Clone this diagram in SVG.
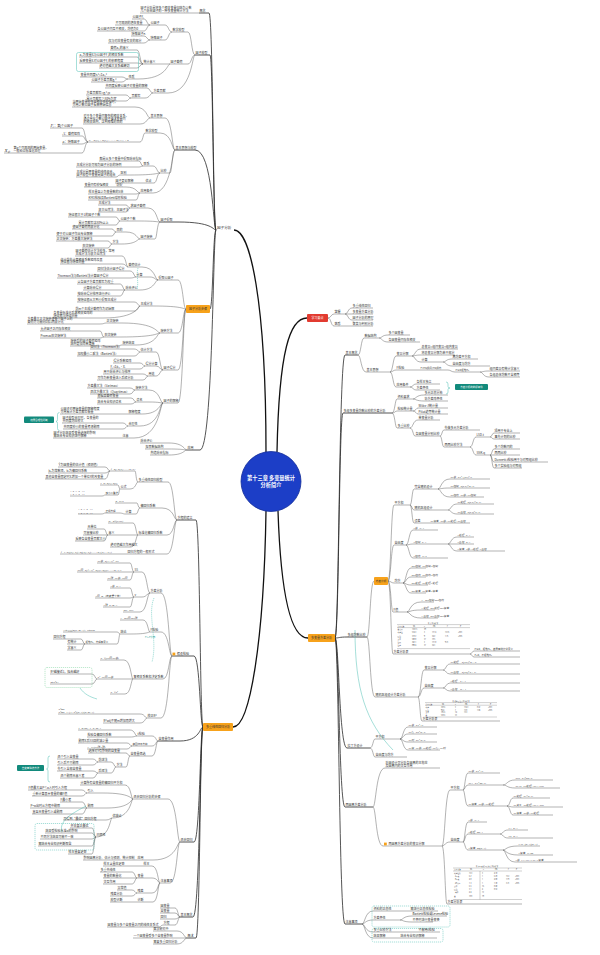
<svg xmlns="http://www.w3.org/2000/svg" width="600" height="955" viewBox="0 0 600 955">
<style>
.c{fill:none;stroke:#555;stroke-width:.45}
.k{fill:none;stroke:#2a2a2a;stroke-width:.8}
.m{fill:none;stroke:#111;stroke-width:1.3}
.tl{fill:none;stroke:#4cbfb3;stroke-width:.5}
.td{fill:none;stroke:#4cbfb3;stroke-width:.5;stroke-dasharray:1.2 .8}
.gd{fill:none;stroke:#7fd39f;stroke-width:.5;stroke-dasharray:1.2 .8}
text{font-family:"Noto Sans CJK SC","Liberation Sans",sans-serif;fill:#333;font-size:3px}
.s{font-size:2.5px}
.x{font-size:1.7px}
.b{font-size:3.6px}
.f{font-family:"Liberation Serif","Noto Sans CJK SC",serif;font-style:italic;font-size:2.7px}
.w{fill:#fff}
.ct{fill:#fff;font-size:5.2px;font-weight:bold}
.tb{fill:none;stroke:#444;stroke-width:.25}
.or{fill:#f7a21b}
.tt{fill:#128a7c}
</style>
<rect width="600" height="955" fill="#fff"/>
<g id="connectors">
<g class="m">
<path d="M266 452C266 300 250 230 234 230"/>
<path d="M277 452C279 350 290 318 307 318"/>
<path d="M278 511C281 600 292 638 308 638"/>
<path d="M266 511C264 640 250 727 233 727"/>
</g>
<g class="k">
<path d="M216 230c-3 0-3-217-7-217H199"/>
<path d="M216 230c-3 0-3-175-6-175H195"/>
<path d="M216 230c-3 0-3-80-21-80H175"/>
<path d="M216 230c-3 0-3-8-38-8H160"/>
<path d="M216 230c-3 0-3 79-6 79"/>
<path d="M216 230c-3 0-3 220-16 220H187"/>
<path d="M335 638c4 0 4-283 10-283H358"/>
<path d="M335 638c4 0 4-225 8-225H392"/>
<path d="M335 638c4 0 4-1 12-1H367"/>
<path d="M335 638c4 0 4 110 12 110H370"/>
<path d="M335 638c4 0 4 169 10 169H373"/>
<path d="M335 638c4 0 4 286 10 286H362"/>
<path d="M203 727c-3 0-3-207-7-207H177"/>
<path d="M203 727c-3 0-3-71-9-71H172"/>
<path d="M203 727c-3 0-3 14-23 14H158"/>
<path d="M203 727c-3 0-3 115-9 115H180"/>
<path d="M203 727c-3 0-3 190-10 190H180"/>
<path d="M203 727c-3 0-3 211-7 211H187"/>
</g>
<g class="c">
<path d="M199 13H140"/>
<path d="M195 55c-3.5 0-3.5-23-7-23H172"/>
<path d="M172 32c-3.5 0-3.5-7-7-7H150"/>
<path d="M150 25c-3 0-3-6-6-6H132"/>
<path d="M150 25H115"/>
<path d="M150 25c-3 0-3 6-6 6H97"/>
<path d="M172 32c-3.5 0-3.5 8-7 8H150"/>
<path d="M150 40c-3 0-3-4-6-4H131"/>
<path d="M150 40c-3 0-3 3-6 3H108"/>
<path d="M195 55c-3.5 0-3.5 9-7 9H170"/>
<path d="M170 64H143"/>
<path d="M143 64c-3 0-3-14-6-14H110"/>
<path d="M143 64c-3 0-3-7-6-7H79"/>
<path d="M143 64c-3 0-3-1-6-1H79"/>
<path d="M143 64c-3 0-3 4-6 4H99"/>
<path d="M170 64c-3 0-3 15-32 15H128"/>
<path d="M128 79c-3 0-3-2-6-2H80"/>
<path d="M128 79c-3 0-3 3-6 3H91"/>
<path d="M195 55c-3 0-3 38-27 38H153"/>
<path d="M153 93c-3 0-3-5-6-5H105"/>
<path d="M153 93c-3 0-3 5-8 5H131"/>
<path d="M131 98c-2.5 0-2.5-3-5-3H86"/>
<path d="M131 98c-2.5 0-2.5 3-5 3H86"/>
<path d="M175 150c-3 0-3-32-10-32H150"/>
<path d="M150 118c-3 0-3-11-15-11H72"/>
<path d="M150 118c-3 0-3 6-10 6H83"/>
<path d="M175 150c-3 0-3-17-15-17H145"/>
<path d="M145 133c-2 0-2 9-5 9H88"/>
<path d="M88 142c-3 0-3-14-6-14H50"/>
<path d="M88 142c-3 0-3-6-6-6H62"/>
<path d="M88 142c-3 0-3 2-6 2H62"/>
<path d="M88 142c-3 0-3 11-6 11H4"/>
<path d="M175 150c-3 0-3 23-5 23H160"/>
<path d="M160 173c-3 0-3-7-7-7H143"/>
<path d="M143 166c-2 0-2-5-4-5H99"/>
<path d="M143 166c-2 0-2 1-4 1H76"/>
<path d="M160 173c-3 0-3 2-30 2H120"/>
<path d="M120 175c-2 0-2 2-4 2H76"/>
<path d="M160 173c-3 0-3 10-6 10H145"/>
<path d="M145 183H115"/>
<path d="M175 150c-3 0-3 43-22 43H140"/>
<path d="M140 193c-3 0-3-6-14-6H116"/>
<path d="M116 187H84"/>
<path d="M140 193c-2 0-2 1-4 1H88"/>
<path d="M140 193c-2 0-2 7-4 7H88"/>
<path d="M160 222c-3 0-3-14-12-14H130"/>
<path d="M130 208c-2 0-2-3-4-3H98"/>
<path d="M130 208c-2 0-2 4-4 4H98"/>
<path d="M160 222c-3 0-3-1-22-1H120"/>
<path d="M120 221c-2 0-2-4-4-4H68"/>
<path d="M120 221c-2 0-2 4-4 4H78"/>
<path d="M160 222c-3 0-3 17-5 17H140"/>
<path d="M140 239c-3 0-3-7-14-7H116"/>
<path d="M116 232c-2 0-2-3-4-3H72"/>
<path d="M116 232c-2 0-2 4-4 4H56"/>
<path d="M140 239c-3 0-3 5-18 5H112"/>
<path d="M112 244c-2 0-2-3-4-3H56"/>
<path d="M112 244c-2 0-2 4-4 4H82"/>
<path d="M186 309c-3 0-3-29-8-29H158"/>
<path d="M158 280c-3 0-3-13-16-13H128"/>
<path d="M128 267c-2 0-2-11-6-11H75"/>
<path d="M128 267c-2 0-2-3-6-3H60"/>
<path d="M158 280c-3 0-3-3-8-3H136"/>
<path d="M136 277c-2 0-2-6-6-6H97"/>
<path d="M136 277c-2 0-2 1-6 1H57"/>
<path d="M158 280c-3 0-3 10-18 10H125"/>
<path d="M125 290c-2 0-2-6-5-6H77"/>
<path d="M125 290H83"/>
<path d="M125 290c-2 0-2 6-5 6H77"/>
<path d="M186 309c-3 0-3-3-33-3H140"/>
<path d="M140 306c-2 0-2-4-6-4H77"/>
<path d="M140 306c-2 0-2 5-6 5H75"/>
<path d="M140 306c-2 0-2 12-37 12H53"/>
<path d="M186 309c-3 0-3 24-8 24H160"/>
<path d="M160 333c-3 0-3-10-38-10H106"/>
<path d="M106 323c-2 0-2 1-6 1H27"/>
<path d="M160 333c-3 0-3 4-40 4H104"/>
<path d="M104 337c-2 0-2-6-4-6H40"/>
<path d="M104 337c-2 0-2 1-4 1H40"/>
<path d="M160 333c-3 0-3 12-24 12H122"/>
<path d="M122 345c-2 0-2 1-4 1H70"/>
<path d="M186 309c-3 0-3 61-8 61H163"/>
<path d="M163 370c-3 0-3-18-7-18H140"/>
<path d="M140 352c-2 0-2-3-6-3H90"/>
<path d="M140 352c-2 0-2 4-6 4H77"/>
<path d="M163 370c-3 0-3-4-7-4H145"/>
<path d="M145 366c-2 0-2-3-5-3H113"/>
<path d="M145 366c-2 0-2 3-5 3H110"/>
<path d="M163 370c-3 0-3 6-7 6H148"/>
<path d="M148 376c-2 0-2-2-5-2H103"/>
<path d="M148 376c-2 0-2 4-5 4H97"/>
<path d="M186 309c-3 0-3 94-8 94H163"/>
<path d="M163 403c-3 0-3-13-14-13H135"/>
<path d="M135 390c-2 0-2-2-5-2H87"/>
<path d="M135 390c-2 0-2 4-5 4H90"/>
<path d="M163 403c-3 0-3-1-14-1H136"/>
<path d="M136 402c-2 0-2-4-5-4H97"/>
<path d="M136 402c-2 0-2 2-5 2H97"/>
<path d="M163 403c-3 0-3 11-21 11H128"/>
<path d="M128 414H60"/>
<path d="M163 403c-3 0-3 23-23 23H128"/>
<path d="M128 426c-2 0-2-3-5-3H62"/>
<path d="M128 426c-2 0-2 3-5 3H63"/>
<path d="M163 403c-3 0-3 35-29 35H122"/>
<path d="M122 438H53"/>
<path d="M187 450c-3 0-3-7-18-7H140"/>
<path d="M187 450c-3 0-3-1-18-1H145"/>
<path d="M187 450c-3 0-3 5-18 5H150"/>
<path d="M328 318c3 0 3-4 6-4H345"/>
<path d="M345 314c3 0 3-6 7-6H373"/>
<path d="M345 314H373"/>
<path d="M345 314c3 0 3 6 7 6H373"/>
<path d="M328 318c3 0 3 8 6 8H345"/>
<path d="M345 326H373"/>
<path d="M358 355c3 0 3-17 6-17H379"/>
<path d="M379 338c3 0 3-3 9-3H410"/>
<path d="M379 338c3 0 3 4 9 4H420"/>
<path d="M358 355c3 0 3 17 8 17H390"/>
<path d="M390 372c3 0 3-16 6-16H412"/>
<path d="M412 356c3 0 3-7 9-7H458"/>
<path d="M412 356c3 0 3-1 9-1H455"/>
<path d="M412 356c3 0 3 6 9 6H443"/>
<path d="M443 362c3 0 3-3 9-3H478"/>
<path d="M443 362c3 0 3 4 9 4H490"/>
<path d="M390 372c3 0 3-2 6-2H412"/>
<path d="M412 370H448"/>
<path d="M448 370c3 0 3 2 7 2H480"/>
<path d="M480 372c3 0 3-1 9-1H520"/>
<path d="M480 372c3 0 3 5 9 5H520"/>
<path d="M390 372c3 0 3 15 6 15H410"/>
<path d="M410 387c3 0 3-3 6-3H440"/>
<path d="M410 387c3 0 3 3 6 3H440"/>
<path d="M392 413c3 0 3-14 5-14H413"/>
<path d="M413 399c3 0 3-4 11-4H448"/>
<path d="M413 399c3 0 3 2 11 2H448"/>
<path d="M392 413c3 0 3-2 5-2H413"/>
<path d="M413 411c3 0 3-3 5-3H448"/>
<path d="M413 411c3 0 3 3 5 3H448"/>
<path d="M392 413c3 0 3 15 5 15H410"/>
<path d="M410 428c3 0 3-8 8-8H440"/>
<path d="M410 428c3 0 3 8 5 8H440"/>
<path d="M440 436c2 0 2-6 4-6H480"/>
<path d="M440 436c2 0 2 11 4 11H470"/>
<path d="M470 447c3 0 3-10 6-10H490"/>
<path d="M490 437c2 0 2-4 4-4H520"/>
<path d="M490 437c2 0 2 2 4 2H520"/>
<path d="M470 447c3 0 3 8 6 8H490"/>
<path d="M490 455c2 0 2-6 4-6H520"/>
<path d="M490 455H520"/>
<path d="M490 455c2 0 2 7 4 7H548"/>
<path d="M490 455c2 0 2 13 4 13H522"/>
<path d="M367 637c3 0 3-56 7-56"/>
<path d="M388 581c3 0 3-76 6-76H410"/>
<path d="M410 505c2 0 2-16 4-16H438"/>
<path d="M438 489c3 0 3-10 12-10H490"/>
<path d="M438 489c3 0 3-1 12-1H490"/>
<path d="M438 489c3 0 3 8 12 8H484"/>
<path d="M410 505c2 0 2 5 4 5H448"/>
<path d="M448 510c3 0 3-6 9-6H494"/>
<path d="M448 510c3 0 3 4 9 4H494"/>
<path d="M410 505c2 0 2 18 4 18H424"/>
<path d="M424 523H470"/>
<path d="M388 581c3 0 3-36 6-36H406"/>
<path d="M406 545c3 0 3-15 7-15H438"/>
<path d="M406 545c3 0 3-1 7-1H448"/>
<path d="M448 544c3 0 3-7 9-7H474"/>
<path d="M448 544H474"/>
<path d="M448 544c3 0 3 7 9 7H505"/>
<path d="M406 545c3 0 3 13 7 13H448"/>
<path d="M388 581c3 0 3 2 6 2H403"/>
<path d="M403 583c3 0 3-15 8-15H426"/>
<path d="M403 583c3 0 3-6 8-6H426"/>
<path d="M403 583c3 0 3 2 8 2H428"/>
<path d="M403 583c3 0 3 10 8 10H426"/>
<path d="M388 581c3 0 3 31 5 31H407"/>
<path d="M407 612c3 0 3-10 14-10H434"/>
<path d="M407 612c3 0 3-2 14-2H435"/>
<path d="M407 612c3 0 3 6 14 6H438"/>
<path d="M388 581c3 0 3 73 5 73H470"/>
<path d="M470 654c2 0 2-3 4-3H520"/>
<path d="M470 654c2 0 2 3 4 3H520"/>
<path d="M367 637c3 0 3 60 8 60H418"/>
<path d="M418 697c3 0 3-27 6-27H443"/>
<path d="M443 670c3 0 3-6 7-6H520"/>
<path d="M443 670c3 0 3 4 7 4H520"/>
<path d="M418 697c3 0 3-9 6-9H443"/>
<path d="M443 688c3 0 3-5 7-5H520"/>
<path d="M443 688c3 0 3 3 7 3H520"/>
<path d="M418 697c2 0 2 24 4 24H500"/>
<path d="M370 748c3 0 3-9 5-9H400"/>
<path d="M400 739c3 0 3-12 8-12H437"/>
<path d="M400 739c3 0 3-5 8-5H437"/>
<path d="M400 739c3 0 3 3 8 3H437"/>
<path d="M400 739c3 0 3 11 8 11H440"/>
<path d="M370 748c3 0 3 9 5 9H407"/>
<path d="M373 807c3 0 3-39 12-39H440"/>
<path d="M373 807c3 0 3 39 10 39H442"/>
<path d="M442 846c3 0 3-56 8-56H463"/>
<path d="M463 790c2 0 2-17 5-17H500"/>
<path d="M463 790c2 0 2-5 5-5H503"/>
<path d="M503 785c4 0 4-5 12-5H553"/>
<path d="M503 785c4 0 4 3 12 3H560"/>
<path d="M463 790c2 0 2 16 5 16H507"/>
<path d="M507 806c3 0 3-8 6-8H550"/>
<path d="M507 806c3 0 3 1 6 1H563"/>
<path d="M507 806c3 0 3 9 6 9H553"/>
<path d="M442 846c3 0 3-4 8-4H463"/>
<path d="M463 842c2 0 2-20 5-20H487"/>
<path d="M463 842c2 0 2-8 5-8H500"/>
<path d="M500 834c3 0 3-4 8-4H528"/>
<path d="M500 834c3 0 3 4 8 4H553"/>
<path d="M463 842c2 0 2 8 5 8H503"/>
<path d="M503 850c3 0 3-4 15-4H540"/>
<path d="M503 850c3 0 3 5 15 5H553"/>
<path d="M503 850c3 0 3 12 12 12H577"/>
<path d="M442 846c3 0 3 58 5 58H522"/>
<path d="M362 924c3 0 3-13 11-13H403"/>
<path d="M403 911H438"/>
<path d="M362 924c3 0 3-4 11-4H400"/>
<path d="M400 920c3 0 3-4 12-4H447"/>
<path d="M400 920c3 0 3 2 12 2H433"/>
<path d="M362 924c3 0 3 8 11 8H403"/>
<path d="M403 932H440"/>
<path d="M362 924c3 0 3 14 11 14H390"/>
<path d="M390 938H437"/>
<path d="M177 520c-3 0-3-38-9-38H138"/>
<path d="M138 482c-2 0-2-11-3-11H110"/>
<path d="M110 471c-2 0-2-4-5-4H58"/>
<path d="M110 471c-2 0-2 2-5 2H48"/>
<path d="M110 471c-2 0-2 8-5 8H45"/>
<path d="M138 482c-2 0-2 7-8 7H120"/>
<path d="M120 489c-1 0-1-4-2-4H100"/>
<path d="M120 489c-1 0-1 6-2 6H105"/>
<path d="M105 495c-1 0-1 1-3 1H70"/>
<path d="M177 520c-3 0-3-12-15-12H140"/>
<path d="M140 508c-2 0-2-5-3-5H115"/>
<path d="M140 508c-2 0-2 6-4 6H125"/>
<path d="M125 514c-2 0-2-1-6-1H105"/>
<path d="M105 513c-1 0-1 1-4 1H78"/>
<path d="M177 520c-3 0-3 15-10 15H138"/>
<path d="M138 535c-2 0-2-12-5-12H108"/>
<path d="M138 535H108"/>
<path d="M108 535c-2 0-2-6-4-6H87"/>
<path d="M108 535H83"/>
<path d="M108 535c-2 0-2 6-4 6H75"/>
<path d="M138 535c-2 0-2 12-7 12H110"/>
<path d="M177 520c-3 0-3 34-10 34H127"/>
<path d="M127 554H60"/>
<path d="M172 656c-3 0-3-63-11-63H150"/>
<path d="M150 593c-3 0-3-21-8-21H134"/>
<path d="M134 572c-2 0-2-9-4-9H97"/>
<path d="M134 572H77"/>
<path d="M134 572c-2 0-2 8-4 8H107"/>
<path d="M150 593c-3 0-3 4-8 4H134"/>
<path d="M134 597c-2 0-2-9-4-9H110"/>
<path d="M134 597c-2 0-2 1-4 1H95"/>
<path d="M134 597c-2 0-2 10-4 10H103"/>
<path d="M150 593c-3 0-3 19-10 19H123"/>
<path d="M172 656c-3 0-3-24-11-24H150"/>
<path d="M150 632c-2 0-2-12-7-12H120"/>
<path d="M150 632c-2 0-2 2-19 2H120"/>
<path d="M120 634c-1 0-1-2-3-2H63"/>
<path d="M120 634c-1 0-1 10-3 10H85"/>
<path d="M85 644c-2 0-2-5-4-5H53"/>
<path d="M85 644H67"/>
<path d="M85 644c-2 0-2 6-4 6H67"/>
<path d="M172 656c-3 0-3 23-9 23H133"/>
<path d="M133 679c-2 0-2-19-9-19H100"/>
<path d="M133 679H97"/>
<path d="M97 679c-2 0-2-5-5-5H50"/>
<path d="M97 679c-2 0-2 5-5 5H50"/>
<path d="M133 679c-2 0-2 15-8 15H110"/>
<path d="M172 656c-3 0-3 62-11 62H147"/>
<path d="M147 718c-2 0-2-4-7-4H58"/>
<path d="M147 718c-2 0-2 5-7 5H103"/>
<path d="M158 741c-2 0-2-5-6-5H137"/>
<path d="M137 736c-2 0-2-6-7-6H78"/>
<path d="M137 736c-2 0-2 1-7 1H87"/>
<path d="M158 741c-2 0-2 5-6 5H132"/>
<path d="M132 746c-2 0-2-3-5-3H78"/>
<path d="M132 746c-2 0-2 3-5 3H87"/>
<path d="M158 741c-2 0-2 15-6 15H130"/>
<path d="M130 756c-2 0-2-3-4-3H88"/>
<path d="M130 756c-2 0-2 11-4 11H116"/>
<path d="M116 767c-2 0-2-5-5-5H98"/>
<path d="M98 762c-2 0-2-3-5-3H57"/>
<path d="M98 762c-2 0-2 3-5 3H57"/>
<path d="M116 767c-2 0-2 6-5 6H98"/>
<path d="M98 773c-2 0-2-2-5-2H57"/>
<path d="M98 773c-2 0-2 5-5 5H60"/>
<path d="M180 842c-3 0-3-43-12-43H133"/>
<path d="M133 799c-2 0-2-14-8-14H80"/>
<path d="M133 799c-2 0-2-6-30-6H87"/>
<path d="M87 793c-2 0-2-3-5-3H28"/>
<path d="M87 793c-2 0-2 3-5 3H32"/>
<path d="M133 799c-2 0-2 9-26 9H87"/>
<path d="M87 808c-2 0-2-6-5-6H60"/>
<path d="M87 808H30"/>
<path d="M87 808c-2 0-2 6-5 6H32"/>
<path d="M133 799c-2 0-2 19-21 19H112"/>
<path d="M112 818c-2 0-2 2-6 2H63"/>
<path d="M112 818c-2 0-2 19-16 19H96"/>
<path d="M96 837c-2 0-2-9-4-9H70"/>
<path d="M96 837c-2 0-2-4-4-4H45"/>
<path d="M96 837c-2 0-2 2-4 2H40"/>
<path d="M96 837c-2 0-2 9-4 9H38"/>
<path d="M96 837c-2 0-2 17-4 17H68"/>
<path d="M180 842c-3 0-3 18-27 18H137"/>
<path d="M137 860H83"/>
<path d="M180 842c-3 0-3 41-10 41H160"/>
<path d="M160 883c-2 0-2-17-8-17H143"/>
<path d="M143 866H103"/>
<path d="M160 883c-2 0-2-5-8-5H137"/>
<path d="M137 878c-2 0-2-6-5-6H100"/>
<path d="M137 878H103"/>
<path d="M137 878c-2 0-2 6-5 6H103"/>
<path d="M160 883c-2 0-2 10-8 10H137"/>
<path d="M137 893c-2 0-2-3-5-3H117"/>
<path d="M137 893c-2 0-2 3-5 3H110"/>
<path d="M160 883c-2 0-2 19-7 19H137"/>
<path d="M137 902H110"/>
<path d="M180 917c-2 0-2-9-5-9H160"/>
<path d="M180 917c-2 0-2-4-5-4H160"/>
<path d="M180 917c-2 0-2 2-5 2H160"/>
<path d="M180 917c-2 0-2 8-5 8H163"/>
<path d="M163 925c-2 0-2 2-4 2H107"/>
<path d="M187 938c-3 0-3-7-10-7H153"/>
<path d="M187 938H133"/>
<path d="M187 938c-3 0-3 6-10 6H153"/>
</g>
<g id="relations">
<path class="td" d="M138 268C136 275 139 282 137 289"/>
<path class="tl" d="M355 630C355 690 366 722 393 750"/>
<path class="td" d="M154 598C147 615 158 640 152 662"/>
<path class="tl" d="M80 688C84 694 90 697 97 699"/>
<path class="tl" d="M62 832C58 820 75 812 86 806"/>
<path class="tl" d="M59.5 412.5q-2 0-2 2v5q0 2-1.5 2q1.5 0 1.5 2v5q0 2 2 2"/>
<path class="tl" d="M446 382q2 0 2 2v2.5q0 1.5 2 1.5q-2 0-2 1.5v2.5q0 2-2 2"/>
<path class="tl" d="M50 756q-2 0-2 2v9q0 2-1.5 2q1.5 0 1.5 2v9q0 2 2 2"/>
</g>
</g>
<g id="center"><circle cx="271" cy="481.5" r="30" fill="#1c3ec7" stroke="#142f99" stroke-width=".8"/><text class="ct" x="271" y="479.5" text-anchor="middle">第十三章 多变量统计</text><text class="ct" x="271" y="486.8" text-anchor="middle">分析简介</text></g>
<g id="nA"><text class="b" x="217" y="229">因子分析</text></g>
<g id="nA1"><text x="199.5" y="12.2">概念</text></g>
<g id="nA1a"><text x="140.5" y="8.9">因子分析是将多个相关变量归结为少数</text><text x="140.5" y="12.2">几个综合因子的一种多变量统计方法</text></g>
<g id="nA2"><text x="195.5" y="54.2">因子模型</text></g>
<g id="nA21"><text x="172.5" y="31.2">数学模型</text></g>
<g id="nA211"><text x="150.5" y="24.2">公因子</text></g>
<g id="nA2111"><text x="132.5" y="18.2">公因子Fⱼ</text></g>
<g id="nA2112"><text x="115.5" y="24.2">不可观测的潜在变量</text></g>
<g id="nA2113"><text x="97.5" y="30.2">各公因子间互不相关，均值为0</text></g>
<g id="nA212"><text x="150.5" y="39.2">特殊因子</text></g>
<g id="nA2121"><text x="131.5" y="35.2">特殊因子eᵢ</text></g>
<g id="nA2122"><text x="108.5" y="42.2">仅与对应变量有关的部分</text></g>
<g id="nA22"><text x="170.5" y="63.2">因子载荷</text></g>
<g id="nA221"><text x="143.5" y="63.2">统计意义</text></g>
<g id="nA2211"><text x="110.5" y="49.2">载荷aᵢⱼ的意义</text></g>
<g id="nA2212"><rect x="76.5" y="52.5" width="62" height="19" rx="2" class="tl"/><text x="79.5" y="56.2">aᵢⱼ为变量Xᵢ与公因子Fⱼ的相关系数</text></g>
<g id="nA2213"><text x="79.5" y="62.2">反映变量Xᵢ对公因子Fⱼ的依赖程度</text></g>
<g id="nA2214"><text x="99.5" y="67.2">绝对值越大关系越密切</text></g>
<g id="nA222"><text x="128.5" y="78.2">性质</text></g>
<g id="nA2221"><text x="80.5" y="76.2">变量共同度hᵢ²=Σaᵢⱼ²</text></g>
<g id="nA2222"><text x="91.5" y="81.2">公因子方差贡献gⱼ²</text></g>
<g id="nA23"><text x="153.5" y="92.2">方差贡献</text></g>
<g id="nA231"><text x="105.5" y="87.2">共同度反映公因子对变量的解释</text></g>
<g id="nA232"><text x="131.5" y="97.2">贡献率</text></g>
<g id="nA2321"><text x="86.5" y="94.2">方差贡献率=gⱼ²/p</text></g>
<g id="nA2322"><text x="86.5" y="100.2">累计贡献率≥80%为宜</text></g>
<g id="nA3"><text x="175.5" y="149.2">基本思想与模型</text></g>
<g id="nA31"><text x="150.5" y="117.2">基本思想</text></g>
<g id="nA311"><text x="72.5" y="103.3">当原始变量较多且相关性较强时，</text><text x="72.5" y="106.3">可用少数公因子反映原始信息</text></g>
<g id="nA312"><text x="83.5" y="116.6">对于多个变量间复杂的相关关系，</text><text x="83.5" y="119.8">通过寻找少数公因子描述变量间</text><text x="83.5" y="123.1">的相关结构，达到降维的目的</text></g>
<g id="nA32"><text x="145.5" y="132.2">数学模型</text></g>
<g id="nA321"><text class="f" x="88.5" y="141.2">Xᵢ = aᵢ₁F₁ + aᵢ₂F₂ + ⋯ + aᵢₘFₘ + eᵢ</text></g>
<g id="nA3211"><text x="50.5" y="127.2"><tspan class="f" style="font-size:4.5px">F</tspan>ⱼ：第j个公因子</text></g>
<g id="nA3212"><text x="62.5" y="135.2"><tspan class="f" style="font-size:4px">A</tspan>：载荷矩阵</text></g>
<g id="nA3213"><text x="62.5" y="143.2"><tspan class="f" style="font-size:4px">e</tspan>ᵢ：特殊因子</text></g>
<g id="nA3214"><text class="f" x="4.5" y="152.3" style="font-size:5px">Xₚ</text><text x="13.5" y="149.3">第p个可观测的原始变量，</text><text x="13.5" y="152.3">一般经过标准化处理</text></g>
<g id="nA33"><text x="160.5" y="172.2">比较</text></g>
<g id="nA331"><text x="143.5" y="165.2">联系</text></g>
<g id="nA3311"><text x="99.5" y="160.2">都是从多个变量中提取综合指标</text></g>
<g id="nA3312"><text x="76.5" y="166.2">主成分分析可视为因子分析的特例</text></g>
<g id="nA332"><text x="120.5" y="174.2">区别</text></g>
<g id="nA3321"><text x="76.5" y="173.1">主成分是原变量的线性组合，</text><text x="76.5" y="176.2">因子模型中变量是因子的组合</text></g>
<g id="nA333"><text x="145.5" y="182.2">优点</text></g>
<g id="nA3331"><text x="115.5" y="182.2">因子更易解释</text></g>
<g id="nA34"><text x="140.5" y="192.2">应用条件</text></g>
<g id="nA341"><text x="116.5" y="186.2">前提</text></g>
<g id="nA3411"><text x="84.5" y="186.2">变量间有较强相关</text></g>
<g id="nA342"><text x="88.5" y="193.2">样本量至少为变量数的5倍</text></g>
<g id="nA343"><text x="88.5" y="199.2">KMO检验及Bartlett球形检验</text></g>
<g id="nA4"><text x="160.5" y="221.2">因子提取</text></g>
<g id="nA41"><text x="130.5" y="207.2">求因子载荷</text></g>
<g id="nA411"><text x="98.5" y="204.2">主成分法</text></g>
<g id="nA412"><text x="98.5" y="211.2">极大似然法、主因子法</text></g>
<g id="nA42"><text x="120.5" y="220.2">公因子个数</text></g>
<g id="nA421"><text x="68.5" y="216.2">特征根大于1的因子个数</text></g>
<g id="nA422"><text x="78.5" y="224.2">累计贡献率达80%以上</text></g>
<g id="nA43"><text x="140.5" y="238.2">因子旋转</text></g>
<g id="nA431"><text x="116.5" y="231.2">目的</text></g>
<g id="nA4311"><text x="72.5" y="228.2">使因子载荷两极分化</text></g>
<g id="nA4312"><text x="56.5" y="235.2">便于对公因子作出专业解释</text></g>
<g id="nA432"><text x="112.5" y="243.2">方法</text></g>
<g id="nA4321"><text x="56.5" y="240.2">正交旋转：方差最大旋转法</text></g>
<g id="nA4322"><text x="82.5" y="247.2">斜交旋转</text></g>
<g id="nO1"><rect x="186" y="305" width="24" height="8" rx="1" class="or"/><text x="198" y="310.2" text-anchor="middle">因子分析步骤</text></g>
<g id="nP1"><text x="158.5" y="279.2">提取公因子</text></g>
<g id="nP11"><text x="128.5" y="266.2">载荷估计</text></g>
<g id="nP111"><text x="75.5" y="252.3">因子载荷估计方法较多，常用</text><text x="75.5" y="255.3">主成分法与极大似然法</text></g>
<g id="nP112"><text x="60.5" y="260.5">估计前先计算相关系数矩阵及其</text><text x="60.5" y="263.3">特征根与特征向量</text></g>
<g id="nP12"><text x="136.5" y="276.2">计算</text></g>
<g id="nP121"><text x="97.5" y="270.2">回归法估计因子得分</text></g>
<g id="nP122"><text x="57.5" y="277.2">Thomson法与Bartlett法计算因子得分</text></g>
<g id="nP13"><text x="125.5" y="289.2">综合评价</text></g>
<g id="nP131"><text x="77.5" y="283.2">以各因子方差贡献率为权重</text></g>
<g id="nP132"><text x="83.5" y="289.2">计算综合得分</text></g>
<g id="nP133"><text x="77.5" y="295.2">按综合得分排序进行评价</text></g>
<g id="nP14"><text x="140.5" y="305.2">主成分法</text></g>
<g id="nP141"><text x="77.5" y="301.2">按特征根从大到小提取主成分</text></g>
<g id="nP142"><text x="75.5" y="310.2">前m个主成分载荷作为初始解</text></g>
<g id="nP143"><text x="53.5" y="314.3">各变量标准化后求相关矩阵的</text><text x="53.5" y="317.3">特征根与特征向量</text></g>
<g id="nP2"><text x="160.5" y="332.2">旋转方法</text></g>
<g id="nP21"><text x="106.5" y="322.2">正交旋转</text></g>
<g id="nP211"><text x="27.5" y="320.3">方差最大正交旋转使每个因子上的</text><text x="27.5" y="323.3">载荷尽可能向0和1两极分化</text></g>
<g id="nP22"><text x="104.5" y="336.2">斜交旋转</text></g>
<g id="nP221"><text x="40.5" y="330.2">允许因子之间存在相关</text></g>
<g id="nP222"><text x="40.5" y="337.2">Promax斜交旋转法</text></g>
<g id="nP23"><text x="122.5" y="344.2">旋转结果</text></g>
<g id="nP231"><text x="70.5" y="342.3">旋转后的因子载荷矩阵</text><text x="70.5" y="345.3">结构更加简单清晰</text></g>
<g id="nP3"><text x="163.5" y="369.2">因子得分</text></g>
<g id="nP31"><text x="140.5" y="351.2">估计方法</text></g>
<g id="nP311"><text x="90.5" y="348.2">回归法（Thomson法）</text></g>
<g id="nP312"><text x="77.5" y="355.2">加权最小二乘法（Bartlett法）</text></g>
<g id="nP32"><text x="145.5" y="365.2">得分计算</text></g>
<g id="nP321"><text x="113.5" y="362.2">得分系数矩阵</text></g>
<g id="nP322"><text x="110.5" y="368.2">Fⱼ=Σβⱼᵢ·Xᵢ</text></g>
<g id="nP33"><text x="148.5" y="375.2">用途</text></g>
<g id="nP331"><text x="103.5" y="373.2">用于综合评价与排序</text></g>
<g id="nP332"><text x="97.5" y="379.2">可作为新变量进入后续分析</text></g>
<g id="nP4"><text x="163.5" y="402.2">因子的解释</text></g>
<g id="nP41"><text x="135.5" y="389.2">旋转方法</text></g>
<g id="nP411"><text x="87.5" y="387.2">方差最大法（Varimax）</text></g>
<g id="nP412"><text x="90.5" y="393.2">四次方最大法（Quartimax）</text></g>
<g id="nP42"><text x="136.5" y="401.2">命名</text></g>
<g id="nP421"><text x="97.5" y="397.2">根据高载荷变量</text></g>
<g id="nP422"><text x="97.5" y="403.2">结合专业知识命名</text></g>
<g id="nP43"><text x="128.5" y="413.2">解释程度</text></g>
<g id="nP431"><text x="60.5" y="410.1">公因子对原始变量的解释程度</text><text x="60.5" y="413.2">可用累计方差贡献率衡量</text></g>
<g id="nP44"><text x="128.5" y="425.2">合理性</text></g>
<g id="nP441"><text x="62.5" y="419.1">因子模型合理时，各变量的</text><text x="62.5" y="422.2">共同度均应较大</text></g>
<g id="nP442"><text x="63.5" y="428.2">共同度较小的变量考虑剔除</text></g>
<g id="nP45"><text x="122.5" y="437.2">注意</text></g>
<g id="nP451"><text x="53.5" y="434.1">因子分析结果受变量选择的影响</text><text x="53.5" y="437.2">需结合专业知识进行解释</text></g>
<g id="nTA"><rect x="24" y="416.5" width="30" height="6.5" rx="1" class="tt"/><text class="w s" x="39" y="420.7" text-anchor="middle">结果合理性判断</text></g>
<g id="nA5"><text x="187.5" y="449.2">应用</text></g>
<g id="nA51"><text x="140.5" y="442.2">综合评价</text></g>
<g id="nA52"><text x="145.5" y="448.2">探索数据结构</text></g>
<g id="nA53"><text x="150.5" y="454.2">构造综合指标</text></g>
<g id="nS"><rect x="307" y="314" width="21" height="8" rx="1" fill="#e23b30"/><text class="w" x="317.5" y="319.2" text-anchor="middle">学习要点</text></g>
<g id="nS1"><text x="334.5" y="313.2">掌握</text></g>
<g id="nS11"><text x="352.5" y="307.2">多重线性回归</text></g>
<g id="nS12"><text x="352.5" y="313.2">多变量方差分析</text></g>
<g id="nS13"><text x="352.5" y="319.2">因子分析的原理</text></g>
<g id="nS2"><text x="334.5" y="325.2">熟悉</text></g>
<g id="nS21"><text x="352.5" y="325.2">聚类与判别分析</text></g>
<g id="nR"><rect x="308" y="634" width="27" height="8" rx="1" class="or"/><text x="321.5" y="639.2" text-anchor="middle">多变量方差分析</text></g>
<g id="nR1"><text x="345.5" y="354.2">基本概念</text></g>
<g id="nR11"><text x="364.5" y="337.2">数据结构</text></g>
<g id="nR111"><text x="388.5" y="334.2">多个因变量</text></g>
<g id="nR112"><text x="388.5" y="341.2">各因变量间存在相关</text></g>
<g id="nR12"><text x="366.5" y="371.2">基本思想</text></g>
<g id="nR121"><text x="396.5" y="355.2">变异分解</text></g>
<g id="nR1211"><text x="421.5" y="348.2">总变异=组间变异+组内变异</text></g>
<g id="nR1212"><text x="421.5" y="354.2">将总变异分解为若干部分</text></g>
<g id="nR1213"><text x="421.5" y="361.2">计算</text></g>
<g id="nR12131"><text x="452.5" y="358.2">离均差平方和</text></g>
<g id="nR12132"><text x="452.5" y="365.2">自由度与均方</text></g>
<g id="nR122"><text x="396.5" y="369.2">F检验</text></g>
<g id="nR1221"><text class="s" x="420.5" y="369.2">F=MS组间/MS组内</text></g>
<g id="nR1222"><text class="s" x="455.5" y="371.2">P≤α拒绝H₀</text></g>
<g id="nR12221"><text x="489.5" y="370.2">组间差异有统计学意义</text></g>
<g id="nR12222"><text x="489.5" y="376.2">各组总体均数不全相等</text></g>
<g id="nR123"><text x="396.5" y="386.2">应用条件</text></g>
<g id="nR1231"><text x="416.5" y="383.2">各样本独立</text></g>
<g id="nR1232"><text x="416.5" y="389.2">方差齐性</text></g>
<g id="nTR"><rect x="455" y="384" width="33" height="6" rx="1" class="tt"/><text class="w s" x="471.5" y="388" text-anchor="middle">方差分析的前提条件</text></g>
<g id="nR2"><text x="343.5" y="412.2">多组多变量均数比较的方差分析</text></g>
<g id="nR21"><text x="397.5" y="398.2">资料要求</text></g>
<g id="nR211"><text x="424.5" y="394.2">多元正态分布</text></g>
<g id="nR212"><text x="424.5" y="400.2">协方差阵齐性</text></g>
<g id="nR22"><text x="397.5" y="410.2">检验统计量</text></g>
<g id="nR221"><text x="418.5" y="407.2">Wilks' Λ统计量</text></g>
<g id="nR222"><text x="418.5" y="413.2">Pillai迹等统计量</text></g>
<g id="nR23"><text x="397.5" y="427.2">多重比较</text></g>
<g id="nR231"><text x="418.5" y="419.2">单变量分析</text></g>
<g id="nR232"><text x="415.5" y="435.2">各因变量分别比较</text></g>
<g id="nR2321"><text x="444.5" y="429.2">先做多元方差分析</text></g>
<g id="nR2322"><text x="444.5" y="446.2">两两比较方法</text></g>
<g id="nR23221"><text x="476.5" y="436.2">LSD-t</text></g>
<g id="nR232211"><text x="494.5" y="432.2">适用于专业上</text></g>
<g id="nR232212"><text x="494.5" y="438.2">事先计划的比较</text></g>
<g id="nR23222"><text x="476.5" y="454.2">SNK-q</text></g>
<g id="nR232221"><text x="494.5" y="448.2">多个均数间的</text></g>
<g id="nR232222"><text x="494.5" y="454.2">两两比较</text></g>
<g id="nR232223"><text x="494.5" y="461.2">Dunnett-t检验用于与对照组比较</text></g>
<g id="nR232224"><text x="494.5" y="467.2">多个实验组与对照组</text></g>
<g id="nN1"><text x="347.5" y="636.2">多组均数比较</text></g>
<g id="nR3"><rect x="374" y="577" width="14" height="8" rx="1" class="or"/><text x="381" y="582.2" text-anchor="middle" style="font-size:2.8px">方差分析</text></g>
<g id="nR31"><text x="394.5" y="504.2">平方和</text></g>
<g id="nR311"><text x="414.5" y="488.2">完全随机设计</text></g>
<g id="nR3111"><text class="f" x="450.5" y="478.2">SS总=ΣX²−(ΣX)²/N</text></g>
<g id="nR3112"><text class="f" x="450.5" y="487.2">SS组间=Σ(ΣXᵢ)²/nᵢ−C</text></g>
<g id="nR3113"><text class="f" x="450.5" y="496.2">SS组内=SS总−SS组间</text></g>
<g id="nR312"><text x="414.5" y="509.2">随机区组设计</text></g>
<g id="nR3121"><text class="f" x="457.5" y="503.2">SS处理=Σ(ΣXᵢ)²/n−C</text></g>
<g id="nR3122"><text class="f" x="457.5" y="513.2">SS区组=Σ(ΣXⱼ)²/k−C</text></g>
<g id="nR313"><text x="414.5" y="522.2">误差</text></g>
<g id="nR3131"><text class="f" x="430.5" y="522.2">SS误差=SS总−SS处理−SS区组</text></g>
<g id="nR32"><text x="394.5" y="544.2">自由度</text></g>
<g id="nR321"><text class="f" x="413.5" y="529.2">ν总=N−1</text></g>
<g id="nR322"><text class="f" x="413.5" y="543.2">ν组间=k−1</text></g>
<g id="nR3221"><text class="f" x="457.5" y="536.2">ν处理=k−1</text></g>
<g id="nR3222"><text class="f" x="457.5" y="543.2">ν区组=b−1</text></g>
<g id="nR3223"><text class="f" x="457.5" y="550.2">ν误差=ν总−ν处理−ν区组</text></g>
<g id="nR323"><text class="f" x="413.5" y="557.2">ν组内=N−k</text></g>
<g id="nR33"><text x="394.5" y="582.2">均方</text></g>
<g id="nR331"><text class="f" x="411.5" y="567.2">MS组间=SS组间/ν组间</text></g>
<g id="nR332"><text class="f" x="411.5" y="576.2">MS组内=SS组内/ν组内</text></g>
<g id="nR333"><text class="f" x="411.5" y="584.2">MS处理=SS处理/ν处理</text></g>
<g id="nR334"><text class="f" x="411.5" y="592.2">MS误差=SS误差/ν误差</text></g>
<g id="nR34"><text x="393.5" y="611.2">F值</text></g>
<g id="nR341"><text class="f" x="421.5" y="601.2">F=MS组间/MS组内</text></g>
<g id="nR342"><text class="f" x="421.5" y="609.2">F处理=MS处理/MS误差</text></g>
<g id="nR343"><text class="f" x="421.5" y="617.2">F区组=MS区组/MS误差</text></g>
<g id="nR35"><text x="393.5" y="653.2">方差分析表</text>
<text class="x" x="433" y="623.6" text-anchor="middle">表 方差分析表</text>
<path class="tb" d="M397 624.6H470M397 627.6H470M397 648.6H470"/>
<text class="x" x="397.5" y="626.8">变异来源</text><text class="x" x="413" y="626.8">SS</text><text class="x" x="424" y="626.8">ν</text><text class="x" x="433" y="626.8">MS</text><text class="x" x="447" y="626.8">F</text><text class="x" x="460" y="626.8">P</text>
<text class="x" x="397.5" y="630.2">总变异</text><text class="x" x="412" y="630.2">1232.5</text><text class="x" x="424" y="630.2">39</text>
<text class="x" x="397.5" y="633.4">处理组</text><text class="x" x="412" y="633.4">514.3</text><text class="x" x="424" y="633.4">3</text><text class="x" x="432" y="633.4">171.4</text><text class="x" x="445" y="633.4">12.35</text><text class="x" x="458" y="633.4">&lt;0.01</text>
<text class="x" x="397.5" y="636.6">区组</text><text class="x" x="412" y="636.6">218.2</text><text class="x" x="424" y="636.6">9</text><text class="x" x="432" y="636.6">24.2</text><text class="x" x="445" y="636.6">1.75</text><text class="x" x="458" y="636.6">&gt;0.05</text>
<text class="x" x="397.5" y="639.8">误差</text><text class="x" x="412" y="639.8">500.0</text><text class="x" x="424" y="639.8">27</text><text class="x" x="432" y="639.8">18.5</text>
<text class="x" x="397.5" y="643">组间</text><text class="x" x="412" y="643">342.1</text><text class="x" x="424" y="643">2</text><text class="x" x="432" y="643">171.0</text><text class="x" x="445" y="643">9.21</text>
<text class="x" x="397.5" y="646.2">组内</text><text class="x" x="412" y="646.2">890.4</text><text class="x" x="424" y="646.2">37</text><text class="x" x="432" y="646.2">24.1</text>
</g>
<g id="nR351"><text class="s" x="474.5" y="650.2">P≤α，拒绝H₀，差异有统计学意义</text></g>
<g id="nR352"><text class="s" x="474.5" y="656.2">P&gt;α，不拒绝H₀</text></g>
<g id="nR36"><text x="375.5" y="696.2">随机区组设计方差分析</text></g>
<g id="nR361"><text x="424.5" y="669.2">变异分解</text></g>
<g id="nR3611"><text class="f" x="450.5" y="663.2">SS处理 = Σ(ΣXᵢ)²/b − C</text></g>
<g id="nR3612"><text class="f" x="450.5" y="673.2">SS区组 = Σ(ΣXⱼ)²/k − C</text></g>
<g id="nR362"><text x="424.5" y="687.2">自由度</text></g>
<g id="nR3621"><text class="f" x="450.5" y="682.2">ν处理 = k − 1</text></g>
<g id="nR3622"><text class="f" x="450.5" y="690.2">ν区组 = b − 1</text></g>
<g id="nR363"><text x="422.5" y="720.2">方差分析表</text>
<text class="x" x="461" y="701.6" text-anchor="middle">表 随机区组方差分析表</text>
<path class="tb" d="M425 702.6H497M425 705.2H497M425 717H497"/>
<text class="x" x="425.5" y="704.6">变异来源</text><text class="x" x="442" y="704.6">SS</text><text class="x" x="455" y="704.6">ν</text><text class="x" x="465" y="704.6">MS</text><text class="x" x="478" y="704.6">F</text><text class="x" x="490" y="704.6">P</text>
<text class="x" x="425.5" y="707.8">处理</text><text class="x" x="441" y="707.8">228.6</text><text class="x" x="455" y="707.8">2</text><text class="x" x="464" y="707.8">114.3</text><text class="x" x="477" y="707.8">8.62</text><text class="x" x="488" y="707.8">&lt;0.01</text>
<text class="x" x="425.5" y="710.6">区组</text><text class="x" x="441" y="710.6">96.4</text><text class="x" x="455" y="710.6">7</text><text class="x" x="464" y="710.6">13.8</text><text class="x" x="477" y="710.6">1.04</text><text class="x" x="488" y="710.6">&gt;0.05</text>
<text class="x" x="425.5" y="713.4">误差</text><text class="x" x="441" y="713.4">185.6</text><text class="x" x="455" y="713.4">14</text><text class="x" x="464" y="713.4">13.3</text>
<text class="x" x="425.5" y="716.2">总</text><text class="x" x="441" y="716.2">510.6</text><text class="x" x="455" y="716.2">23</text>
</g>
<g id="nR4"><text x="347.5" y="747.2">拉丁方设计</text></g>
<g id="nR41"><text x="375.5" y="738.2">平方和</text></g>
<g id="nR411"><text class="f" x="408.5" y="726.2">SS总=ΣX²−C</text></g>
<g id="nR412"><text class="f" x="408.5" y="733.2">SS行=ΣR²/n−C</text></g>
<g id="nR413"><text class="f" x="408.5" y="741.2">SS列=ΣC²/n−C</text></g>
<g id="nR414"><text class="f" x="408.5" y="749.2">SS误=SS总−SS处理−SS行−SS列</text></g>
<g id="nR42"><text x="375.5" y="756.2">自由度与均方</text></g>
<g id="nR5"><text x="345.5" y="806.2">两因素方差分析</text></g>
<g id="nR51"><text x="385.5" y="764.1">析因设计可分析各因素的主效应</text><text x="385.5" y="767.2">及因素间的交互作用</text></g>
<g id="nR52"><rect x="384" y="842.6" width="2.8" height="2.8" class="or"/><text x="388.5" y="845.2">两因素方差分析的变异分解</text></g>
<g id="nR521"><text x="450.5" y="789.2">平方和</text></g>
<g id="nR5211"><text class="f" x="468.5" y="772.2">SS总=ΣX²−C</text></g>
<g id="nR5212"><text class="f" x="468.5" y="784.2">SSA=ΣTᵢ²/bn−C</text></g>
<g id="nR52121"><text class="f" x="515.5" y="779.2">SSB=ΣTⱼ²/an−C</text></g>
<g id="nR52122"><text class="f" x="515.5" y="787.2">SSAB=SS处理−SSA−SSB</text></g>
<g id="nR5213"><text class="f" x="468.5" y="805.2">SS误差=SS总−SS处理</text></g>
<g id="nR52131"><text class="f" x="513.5" y="797.2">SS处理=ΣT²/n−C</text></g>
<g id="nR52132"><text class="f" x="513.5" y="806.2">SS交互=SS处理−SSA−SSB</text></g>
<g id="nR52133"><text class="f" x="513.5" y="814.2">SS误差=SS总−SS处理</text></g>
<g id="nR522"><text x="450.5" y="841.2">自由度</text></g>
<g id="nR5221"><text class="f" x="468.5" y="821.2">ν总=N−1</text></g>
<g id="nR5222"><text class="f" x="468.5" y="833.2">ν处理=ab−1</text></g>
<g id="nR52221"><text class="f" x="508.5" y="829.2">νA=a−1</text></g>
<g id="nR52222"><text class="f" x="508.5" y="837.2">νB=b−1</text></g>
<g id="nR5223"><text class="f" x="468.5" y="849.2">ν误差=ab(n−1)</text></g>
<g id="nR52231"><text class="f" x="518.5" y="845.2">νAB=(a−1)(b−1)</text></g>
<g id="nR52232"><text class="f" x="518.5" y="854.2">ν误差=N−ab</text></g>
<g id="nR52233"><text class="f" x="515.5" y="861.2">ν总=νA+νB+νAB+ν误差</text></g>
<g id="nR523"><text x="447.5" y="903.2">方差分析表</text>
<text class="x" x="487" y="867" text-anchor="middle">表 两因素析因设计方差分析表</text>
<path class="tb" d="M453 868H522M453 871H522M453 899.5H522M480 871V899.5"/>
<text class="x" x="454" y="870.3">变异来源</text><text class="x" x="470" y="870.3">SS</text><text class="x" x="483" y="870.3">ν</text><text class="x" x="495" y="870.3">MS</text><text class="x" x="508" y="870.3">F</text><text class="x" x="516" y="870.3">P</text>
<text class="x" x="454" y="874">处理组合</text><text class="x" x="469" y="874">12.3</text><text class="x" x="482" y="874">3</text><text class="x" x="494" y="874">4.10</text>
<text class="x" x="455" y="877.2">A因素</text><text class="x" x="469" y="877.2">6.2</text><text class="x" x="482" y="877.2">1</text><text class="x" x="494" y="877.2">6.20</text><text class="x" x="506" y="877.2">15.3</text><text class="x" x="515" y="877.2">&lt;0.01</text>
<text class="x" x="455" y="880.4">B因素</text><text class="x" x="469" y="880.4">4.8</text><text class="x" x="482" y="880.4">1</text><text class="x" x="494" y="880.4">4.80</text><text class="x" x="506" y="880.4">11.9</text><text class="x" x="515" y="880.4">&lt;0.01</text>
<text class="x" x="455" y="883.6">AB交互</text><text class="x" x="469" y="883.6">1.3</text><text class="x" x="482" y="883.6">1</text><text class="x" x="494" y="883.6">1.30</text><text class="x" x="506" y="883.6">3.21</text><text class="x" x="515" y="883.6">&gt;0.05</text>
<text class="x" x="454" y="886.8">误差</text><text class="x" x="469" y="886.8">6.5</text><text class="x" x="482" y="886.8">16</text><text class="x" x="494" y="886.8">0.40</text>
<text class="x" x="454" y="890">区组</text><text class="x" x="469" y="890">2.1</text><text class="x" x="482" y="890">4</text><text class="x" x="494" y="890">0.53</text>
<text class="x" x="455" y="893.2">残差</text><text class="x" x="469" y="893.2">4.4</text><text class="x" x="482" y="893.2">12</text>
<text class="x" x="454" y="897">总</text><text class="x" x="469" y="897">18.8</text><text class="x" x="482" y="897">19</text>
</g>
<g id="nR6"><text x="345.5" y="923.2">注意事项</text></g>
<g id="nB1"><rect x="372" y="906" width="78" height="21" rx="2" class="td"/><rect x="372" y="928.5" width="71" height="13.5" rx="2" class="td"/></g>
<g id="nR61"><text x="373.5" y="910.2">资料的正态性</text></g>
<g id="nR611"><text x="410.5" y="910.2">需进行正态性检验</text></g>
<g id="nR62"><text x="373.5" y="919.2">方差齐性</text></g>
<g id="nR621"><text x="412.5" y="915.2">Bartlett检验或Levene检验</text></g>
<g id="nR622"><text x="412.5" y="921.2">不齐时进行变量变换</text></g>
<g id="nR63"><text x="373.5" y="931.2">多重比较方法</text></g>
<g id="nR631"><text x="418.5" y="931.2">不能用t检验</text></g>
<g id="nR64"><text x="373.5" y="937.2">结果解释</text></g>
<g id="nR641"><text x="400.5" y="937.2">结合专业知识解释</text></g>
<g id="nL"><rect x="203" y="723" width="30" height="8" rx="1" class="or"/><text x="218" y="728.2" text-anchor="middle">多重线性回归分析</text></g>
<g id="nL1"><text x="177.5" y="519.2">方程的建立</text></g>
<g id="nL11"><text x="138.5" y="481.2">多重线性回归模型</text></g>
<g id="nL111"><text class="f" x="110.5" y="470.2">Ŷ=b₀+b₁X₁+⋯+bₘXₘ</text></g>
<g id="nL1111"><text x="58.5" y="466.2">Ŷ为因变量的估计值（预测值）</text></g>
<g id="nL1112"><text x="48.5" y="472.2">b₀为常数项，bᵢ为偏回归系数</text></g>
<g id="nL1113"><text x="45.5" y="478.2">其他自变量固定时Xᵢ增加一个单位Y的改变量</text></g>
<g id="nL112"><text x="120.5" y="488.2">公式</text></g>
<g id="nL1121"><text class="f" x="100.5" y="484.2">ŷ=a+b₁x₁+b₂x₂</text></g>
<g id="nL1122"><text class="s" x="105.5" y="494.2">最小二乘法</text></g>
<g id="nL11221"><text class="f" x="70.5" y="492.4" style="font-size:2.3px">l₁₁b₁+l₁₂b₂=l₁y</text><text class="f" x="70.5" y="495.4" style="font-size:2.3px">l₂₁b₁+l₂₂b₂=l₂y</text></g>
<g id="nL12"><text x="140.5" y="507.2">偏回归系数</text></g>
<g id="nL121"><text class="f" x="115.5" y="502.2">bᵢ=lᵢy/lᵢᵢ</text></g>
<g id="nL122"><text x="125.5" y="513.2">计算</text></g>
<g id="nL1221"><text class="s" x="105.5" y="512.2">正规方程</text></g>
<g id="nL12211"><text class="f" x="78.5" y="510.4" style="font-size:2.3px">l₁₁b₁+l₁₂b₂=l₁y</text><text class="f" x="78.5" y="513.5" style="font-size:2.3px">l₂₁b₁+l₂₂b₂=l₂y</text></g>
<g id="nL13"><text x="138.5" y="534.2">标准化偏回归系数</text></g>
<g id="nL131"><text class="f" x="108.5" y="522.2">b′ᵢ=bᵢ√(lᵢᵢ/lyy)</text></g>
<g id="nL132"><text x="108.5" y="534.2">意义</text></g>
<g id="nL1321"><text x="87.5" y="528.2">无单位</text></g>
<g id="nL1322"><text x="83.5" y="534.2">可直接比较</text></g>
<g id="nL1323"><text x="75.5" y="540.2">反映各自变量贡献大小</text></g>
<g id="nL133"><text x="110.5" y="546.2">绝对值越大作用越大</text></g>
<g id="nL14"><text x="127.5" y="553.2">回归方程的一般形式</text></g>
<g id="nL141"><text class="f" x="60.5" y="553.2">Ŷ=Ȳ+b₁(X₁−X̄₁)+b₂(X₂−X̄₂)+⋯+bₘ(Xₘ−X̄ₘ)</text></g>
<g id="nL2"><rect x="172.5" y="652.6" width="2.8" height="2.8" class="or"/><text x="177" y="655.2">假设检验</text></g>
<g id="nL21"><text x="150.5" y="592.2">方差分析</text></g>
<g id="nL211"><text x="134.5" y="571.2">SS</text></g>
<g id="nL2111"><text class="f" x="97.5" y="562.2">SS总=Σ(Y−Ȳ)²=lyy</text></g>
<g id="nL2112"><text class="f" x="77.5" y="571.2">SS回=Σ(Ŷ−Ȳ)²=b₁l₁y+b₂l₂y+⋯+bₘlₘy</text></g>
<g id="nL2113"><text class="f" x="107.5" y="579.2">SS残=SS总−SS回</text></g>
<g id="nL212"><text x="134.5" y="596.2">ν</text></g>
<g id="nL2121"><text class="f" x="110.5" y="587.2">ν总=n−1</text></g>
<g id="nL2122"><text class="f" x="95.5" y="597.2">ν回=m（自变量个数）</text></g>
<g id="nL2123"><text class="f" x="103.5" y="606.2">ν残=n−m−1</text></g>
<g id="nL213"><text class="f" x="123.5" y="611.2">MS=SS/ν</text></g>
<g id="nL22"><text x="150.5" y="631.2">F检验</text></g>
<g id="nL221"><text class="f" x="120.5" y="619.2">F=MS回/MS残</text></g>
<g id="nL222"><text x="120.5" y="633.2">结论</text></g>
<g id="nL2221"><text class="f" x="63.5" y="631.2">F≥F₀.₀₅(m,n−m−1)，P≤0.05</text></g>
<g id="nL2222"><text class="s" x="85.5" y="643.2">拒绝H₀，方程有意义</text></g>
<g id="nL22221"><text x="53.5" y="638.2">回归方程</text></g>
<g id="nL22222"><text x="67.5" y="643.2">有统计</text></g>
<g id="nL22223"><text x="67.5" y="649.2">学意义</text></g>
<g id="nTL1"><text class="s" x="145" y="637.8" style="fill:#2aa597">F～F分布</text></g>
<g id="nL23"><text x="133.5" y="678.2">复相关系数和决定系数</text></g>
<g id="nL231"><text class="f" x="100.5" y="659.2">R=√(SS回/SS总)</text></g>
<g id="nL232"><text class="f" x="97.5" y="678.2">R²=SS回/SS总</text></g>
<g id="nL2321"><rect x="45" y="667.5" width="47" height="20" rx="2" class="gd"/><text x="50.5" y="673.2">R²越接近1，拟合越好</text></g>
<g id="nL2322"><text class="f" x="50.5" y="683.2">0≤R²≤1</text></g>
<g id="nL233"><text class="f" x="110.5" y="693.2">R=√R²</text></g>
<g id="nL24"><text x="147.5" y="717.2">校正R²</text></g>
<g id="nL241"><text class="f" x="58.5" y="709.6">R²adj</text><text class="f" x="58.5" y="713.2">R²adj=1−(1−R²)(n−1)/(n−m−1)</text></g>
<g id="nL242"><text x="103.5" y="722.2">R²adj不随m增加而增大</text></g>
<g id="nL3"><text x="158.5" y="740.2">自变量作用</text></g>
<g id="nL31"><text x="137.5" y="735.2">t检验</text></g>
<g id="nL311"><text class="f" x="78.5" y="729.2">tᵢ=bᵢ/Sbᵢ，ν=n−m−1</text></g>
<g id="nL312"><text x="87.5" y="736.2">检验各偏回归系数</text></g>
<g id="nL32"><text class="s" x="132.5" y="745.2">偏回归平方和</text></g>
<g id="nL321"><text x="78.5" y="742.2">剔除Xᵢ后SS回的减少量</text></g>
<g id="nL322"><text class="f" x="87.5" y="748.2">F=U/(SS残/ν残)</text></g>
<g id="nL33"><text x="130.5" y="755.2">自变量筛选</text></g>
<g id="nL331"><text x="88.5" y="752.2">选择对Y有影响的自变量</text></g>
<g id="nL332"><text x="116.5" y="766.2">方法</text></g>
<g id="nL3321"><text x="98.5" y="761.2">前进法</text></g>
<g id="nL33211"><text x="57.5" y="758.2">逐个引入自变量</text></g>
<g id="nL33212"><text x="57.5" y="764.2">引入后不再剔除</text></g>
<g id="nL3322"><text x="98.5" y="772.2">后退法</text></g>
<g id="nL33221"><text x="57.5" y="770.2">先引入全部自变量</text></g>
<g id="nL33222"><text x="60.5" y="777.2">逐个剔除无意义者</text></g>
<g id="nTL2"><rect x="17" y="765" width="27" height="6" rx="1" class="tt"/><text class="w s" x="30.5" y="769" text-anchor="middle">自变量筛选方法</text></g>
<g id="nL4"><text x="180.5" y="841.2">逐步回归</text></g>
<g id="nL41"><text x="133.5" y="798.2">逐步回归分析的步骤</text></g>
<g id="nL411"><text x="80.5" y="784.2">计算所有自变量的偏回归平方和</text></g>
<g id="nL412"><text x="87.5" y="792.2">引入</text></g>
<g id="nL4121"><text x="28.5" y="789.2">F值最大且P≤α入时引入方程</text></g>
<g id="nL4122"><text x="32.5" y="795.2">重新计算其余变量的偏F值</text></g>
<g id="nL413"><text x="87.5" y="807.2">剔除</text></g>
<g id="nL4131"><text x="60.5" y="801.2">F最小者</text></g>
<g id="nL4132"><text x="30.5" y="807.2">P&gt;α出时从方程中剔除</text></g>
<g id="nL4133"><text x="32.5" y="813.2">直至无变量引入或剔除</text></g>
<g id="nL414"><text x="112.5" y="817.2">优缺点</text></g>
<g id="nL4141"><text x="63.5" y="819.6">可得到“最优”回归方程</text></g>
<g id="nL4142"><rect x="35" y="823.5" width="59" height="26.5" rx="2" class="td"/><text x="96.5" y="836.2">局限性</text></g>
<g id="nL41421"><text x="70.5" y="827.2">并非真正最优</text></g>
<g id="nL41422"><text x="45.5" y="832.2">结果受检验水准α的影响</text></g>
<g id="nL41423"><text x="40.5" y="838.2">不同方法结果可能不一致</text></g>
<g id="nL41424"><text x="38.5" y="845.2">需结合专业知识判断取舍</text></g>
<g id="nL41425"><text x="68.5" y="853.2">样本量要足够</text></g>
<g id="nL42"><text x="137.5" y="859.2">应用</text></g>
<g id="nL421"><text x="83.5" y="859.2">影响因素分析、估计与预测、统计控制</text></g>
<g id="nL43"><text x="160.5" y="882.2">注意事项</text></g>
<g id="nL431"><text x="143.5" y="865.2">样本</text></g>
<g id="nL4311"><text x="103.5" y="865.2">样本含量应足够</text></g>
<g id="nL432"><text x="137.5" y="877.2">变量</text></g>
<g id="nL4321"><text x="100.5" y="871.2">多重共线性</text></g>
<g id="nL4322"><text x="103.5" y="877.2">变量的数量化</text></g>
<g id="nL4323"><text x="103.5" y="883.2">交互作用</text></g>
<g id="nL433"><text x="137.5" y="892.2">残差</text></g>
<g id="nL4331"><text x="117.5" y="889.2">异常值</text></g>
<g id="nL4332"><text x="110.5" y="895.2">残差分析</text></g>
<g id="nL434"><text x="137.5" y="901.2">诊断</text></g>
<g id="nL4341"><text x="110.5" y="901.2">模型诊断</text></g>
<g id="nL5"><text x="180.5" y="916.2">基本概念</text></g>
<g id="nL51"><text x="160.5" y="907.2">因变量</text></g>
<g id="nL52"><text x="160.5" y="912.2">自变量</text></g>
<g id="nL53"><text x="160.5" y="918.2">回归</text></g>
<g id="nL54"><text x="163.5" y="924.2">方程</text></g>
<g id="nL541"><text x="107.5" y="926.2">因变量与多个自变量之间的线性关系式</text></g>
<g id="nL6"><text x="187.5" y="937.2">概述</text></g>
<g id="nL61"><text x="153.5" y="930.2">医学研究中</text></g>
<g id="nL62"><text x="133.5" y="937.2">一个因变量受多个自变量影响</text></g>
<g id="nL63"><text x="153.5" y="943.2">需要多重回归分析</text></g>
</svg>
